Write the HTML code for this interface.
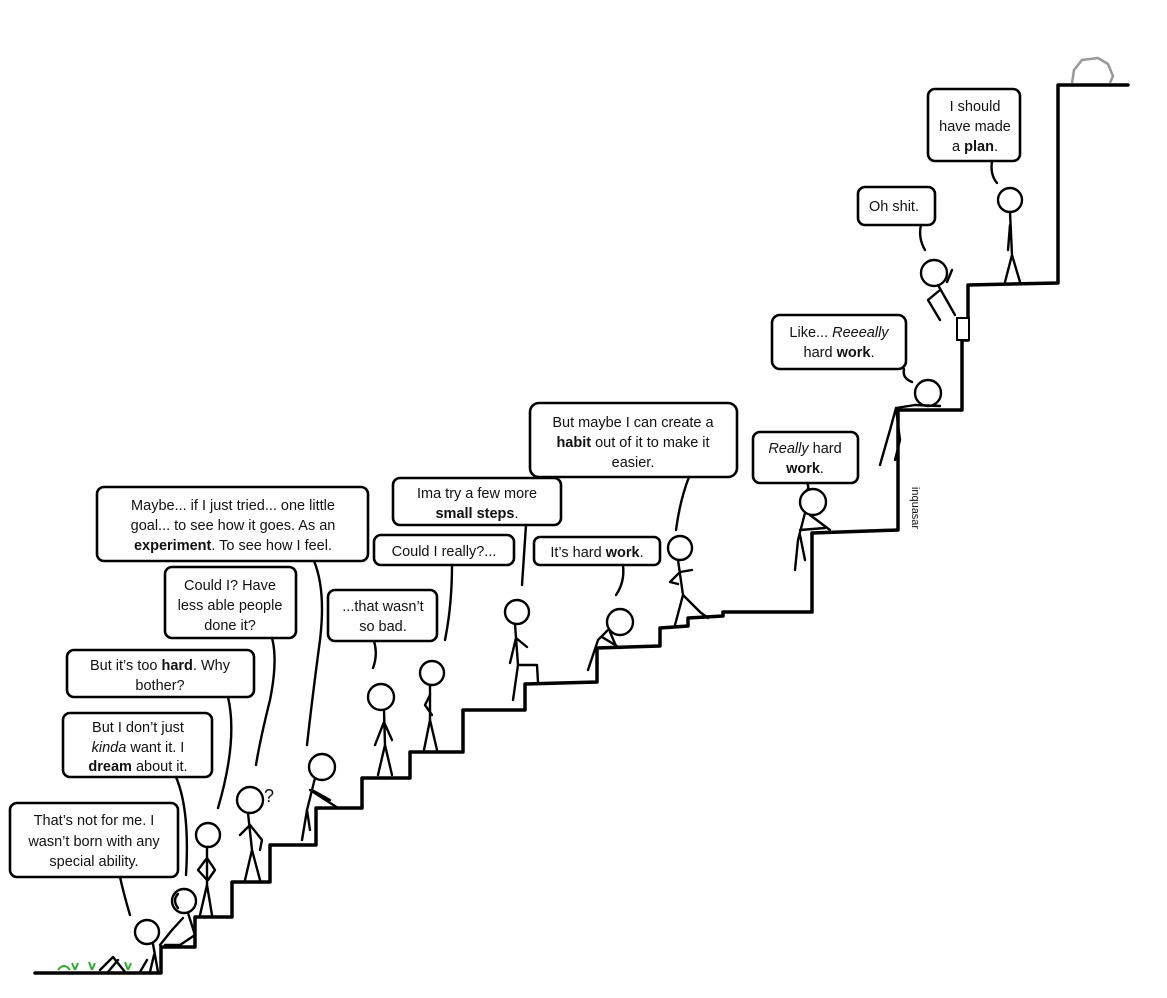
<!DOCTYPE html>
<html><head><meta charset="utf-8"><style>
html,body{margin:0;padding:0;background:#fff;}
svg{display:block;}
text{font-family:"Liberation Sans",sans-serif;font-size:14.5px;fill:#111;text-anchor:middle;}
.b{fill:#fff;stroke:#000;stroke-width:2.6;}
.l{fill:none;stroke:#000;stroke-width:2.4;stroke-linecap:round;stroke-linejoin:round;}
.h{fill:#fff;stroke:#000;stroke-width:2.4;}
</style></head><body>
<svg width="1167" height="998" viewBox="0 0 1167 998" xmlns="http://www.w3.org/2000/svg">
<path class="l" style="stroke-width:3.5" d="M35 973 L161 973 L161 947 L195 947 L195 917 L232 917 L232 882 L270 882 L270 845 L316 845 L316 808 L362 808 L362 778 L410 778 L410 752 L463 752 L463 710 L525 710 L525 684 L597 682 L597 648 L660 646 L660 628 L688 626 L688 618 L723 616 L723 612 L812 612 L812 533 L898 530 L898 410 L962 410 L962 340 L968 340 L968 285 L1058 283 L1058 85 L1128 85"/>
<path d="M1072 83 L1074 70 L1082 60 L1098 58 L1108 64 L1113 76 L1110 83" fill="none" stroke="#999" stroke-width="2.5" stroke-linejoin="round"/>
<g stroke="#3a3" stroke-width="2" fill="none"><path d="M58 970 Q64 962 70 970"/><path d="M75 970 l-3 -7 M75 970 l3 -7"/><path d="M92 970 l-3 -8 M92 970 l3 -7"/><path d="M128 970 l-3 -8 M128 970 l3 -7"/></g>
<g>
<rect class="b" x="10" y="803" width="168" height="74" rx="7"/>
<text x="94" y="825">That’s not for me. I</text><text x="94" y="846">wasn’t born with any</text><text x="94" y="866">special ability.</text>
<path class="l" d="M120 877 Q124 895 130 915"/>

<rect class="b" x="63" y="713" width="149" height="64" rx="7"/>
<text x="138" y="732">But I don’t just</text><text x="138" y="752"><tspan font-style="italic">kinda</tspan> want it. I</text><text x="138" y="771"><tspan font-weight="bold">dream</tspan> about it.</text>
<path class="l" d="M176 777 Q190 810 186 875"/>

<rect class="b" x="67" y="650" width="187" height="47" rx="7"/>
<text x="160" y="670">But it’s too <tspan font-weight="bold">hard</tspan>. Why</text><text x="160" y="690">bother?</text>
<path class="l" d="M228 697 Q238 740 218 808"/>

<rect class="b" x="165" y="567" width="131" height="71" rx="7"/>
<text x="230" y="590">Could I? Have</text><text x="230" y="610">less able people</text><text x="230" y="630">done it?</text>
<path class="l" d="M272 638 Q278 660 270 700 Q260 740 256 765"/>

<rect class="b" x="97" y="487" width="271" height="74" rx="7"/>
<text x="233" y="510">Maybe... if I just tried... one little</text><text x="233" y="530">goal... to see how it goes. As an</text><text x="233" y="550"><tspan font-weight="bold">experiment</tspan>. To see how I feel.</text>
<path class="l" d="M314 561 Q326 590 320 640 Q312 700 307 745"/>

<rect class="b" x="328" y="590" width="109" height="51" rx="7"/>
<text x="383" y="611">...that wasn’t</text><text x="383" y="631">so bad.</text>
<path class="l" d="M374 641 Q378 655 373 668"/>

<rect class="b" x="374" y="535" width="140" height="30" rx="7"/>
<text x="444" y="556">Could I really?...</text>
<path class="l" d="M452 565 Q452 605 445 640"/>

<rect class="b" x="393" y="478" width="168" height="47" rx="7"/>
<text x="477" y="498">Ima try a few more</text><text x="477" y="518"><tspan font-weight="bold">small steps</tspan>.</text>
<path class="l" d="M526 525 Q524 555 522 585"/>

<rect class="b" x="530" y="403" width="207" height="74" rx="9"/>
<text x="633" y="427">But maybe I can create a</text><text x="633" y="447"><tspan font-weight="bold">habit</tspan> out of it to make it</text><text x="633" y="467">easier.</text>
<path class="l" d="M689 477 Q680 500 676 530"/>

<rect class="b" x="534" y="537" width="126" height="28" rx="6"/>
<text x="597" y="557">It’s hard <tspan font-weight="bold">work</tspan>.</text>
<path class="l" d="M623 565 Q625 582 616 595"/>

<rect class="b" x="753" y="432" width="105" height="51" rx="7"/>
<text x="805" y="453"><tspan font-style="italic">Really</tspan> hard</text><text x="805" y="473"><tspan font-weight="bold">work</tspan>.</text>
<path class="l" d="M807 483 Q810 488 806 491"/>

<rect class="b" x="772" y="315" width="134" height="54" rx="8"/>
<text x="839" y="337">Like... <tspan font-style="italic">Reeeally</tspan></text><text x="839" y="357">hard <tspan font-weight="bold">work</tspan>.</text>
<path class="l" d="M904 369 Q902 378 912 382"/>

<rect class="b" x="858" y="187" width="77" height="38" rx="7"/>
<text x="894" y="211">Oh shit.</text>
<path class="l" d="M921 225 Q918 238 925 250"/>

<rect class="b" x="928" y="89" width="92" height="72" rx="7"/>
<text x="975" y="111">I should</text><text x="975" y="131">have made</text><text x="975" y="151">a <tspan font-weight="bold">plan</tspan>.</text>
<path class="l" d="M992 161 Q990 175 997 183"/>
</g>
<text x="912" y="508" transform="rotate(90 912 508)" style="font-size:11px">inquasar</text>
<g>
<circle class="h" cx="147" cy="932" r="12"/><path class="l" d="M153 944 L158 972 M154 955 L150 972 M147 960 L140 972 M100 970 L113 957 L125 972 M108 972 L118 960"/>
<circle class="h" cx="184" cy="901" r="12"/><path class="l" d="M188 913 L195 935 L180 945 L165 945 M183 918 L172 930 L160 945 M178 908 Q172 900 178 894"/>
<circle class="h" cx="208" cy="835" r="12"/><path class="l" d="M207 847 L207 885 L200 915 M207 885 L212 915 M207 858 L198 870 L207 880 M207 858 L215 870 L208 880"/>
<circle class="h" cx="250" cy="800" r="13"/><path class="l" d="M248 813 L252 850 L245 880 M252 850 L260 880 M250 825 L240 835 M250 825 L262 840 L260 850"/>
<text x="269" y="802" style="font-size:18px">?</text>
<circle class="h" cx="322" cy="767" r="13"/><path class="l" d="M315 778 L307 810 L302 840 M310 790 L338 808 M307 810 L310 830 M312 790 L330 800"/>
<circle class="h" cx="381" cy="697" r="13"/><path class="l" d="M384 710 L385 745 L378 775 M385 745 L392 775 M384 722 L375 745 M384 722 L392 740"/>
<circle class="h" cx="432" cy="673" r="12"/><path class="l" d="M430 685 L430 720 L424 750 M430 720 L437 750 M430 695 L425 705 L432 715"/>
<circle class="h" cx="517" cy="612" r="12"/><path class="l" d="M515 624 L518 665 L513 700 M518 665 L537 665 L538 682 M516 638 L527 647 M516 638 L510 663"/>
<circle class="h" cx="620" cy="622" r="13"/><path class="l" d="M608 630 L598 640 L588 670 M602 637 L620 648 M610 632 L616 646"/>
<circle class="h" cx="680" cy="548" r="12"/><path class="l" d="M678 560 L683 595 L675 625 M683 595 L700 612 L708 618 M680 572 L670 582 L678 584 M680 572 L692 570"/>
<circle class="h" cx="813" cy="502" r="13"/><path class="l" d="M805 513 L798 540 L795 570 M800 530 L825 528 M800 535 L805 560 M810 515 L830 530"/>
<circle class="h" cx="928" cy="393" r="13"/><path class="l" d="M915 405 L896 408 L890 430 L880 465 M896 408 L900 440 L895 460 M915 405 L940 406"/>
<circle class="h" cx="934" cy="273" r="13"/><path class="l" d="M938 285 L955 315 M940 290 L928 300 L940 320 M947 282 L952 270"/>
<rect x="957" y="318" width="12" height="22" fill="#fff" stroke="#000" stroke-width="2"/>
<circle class="h" cx="1010" cy="200" r="12"/><path class="l" d="M1010 212 L1012 255 L1005 282 M1012 255 L1020 282 M1010 225 L1008 250"/>
</g>
</svg>
</body></html>
